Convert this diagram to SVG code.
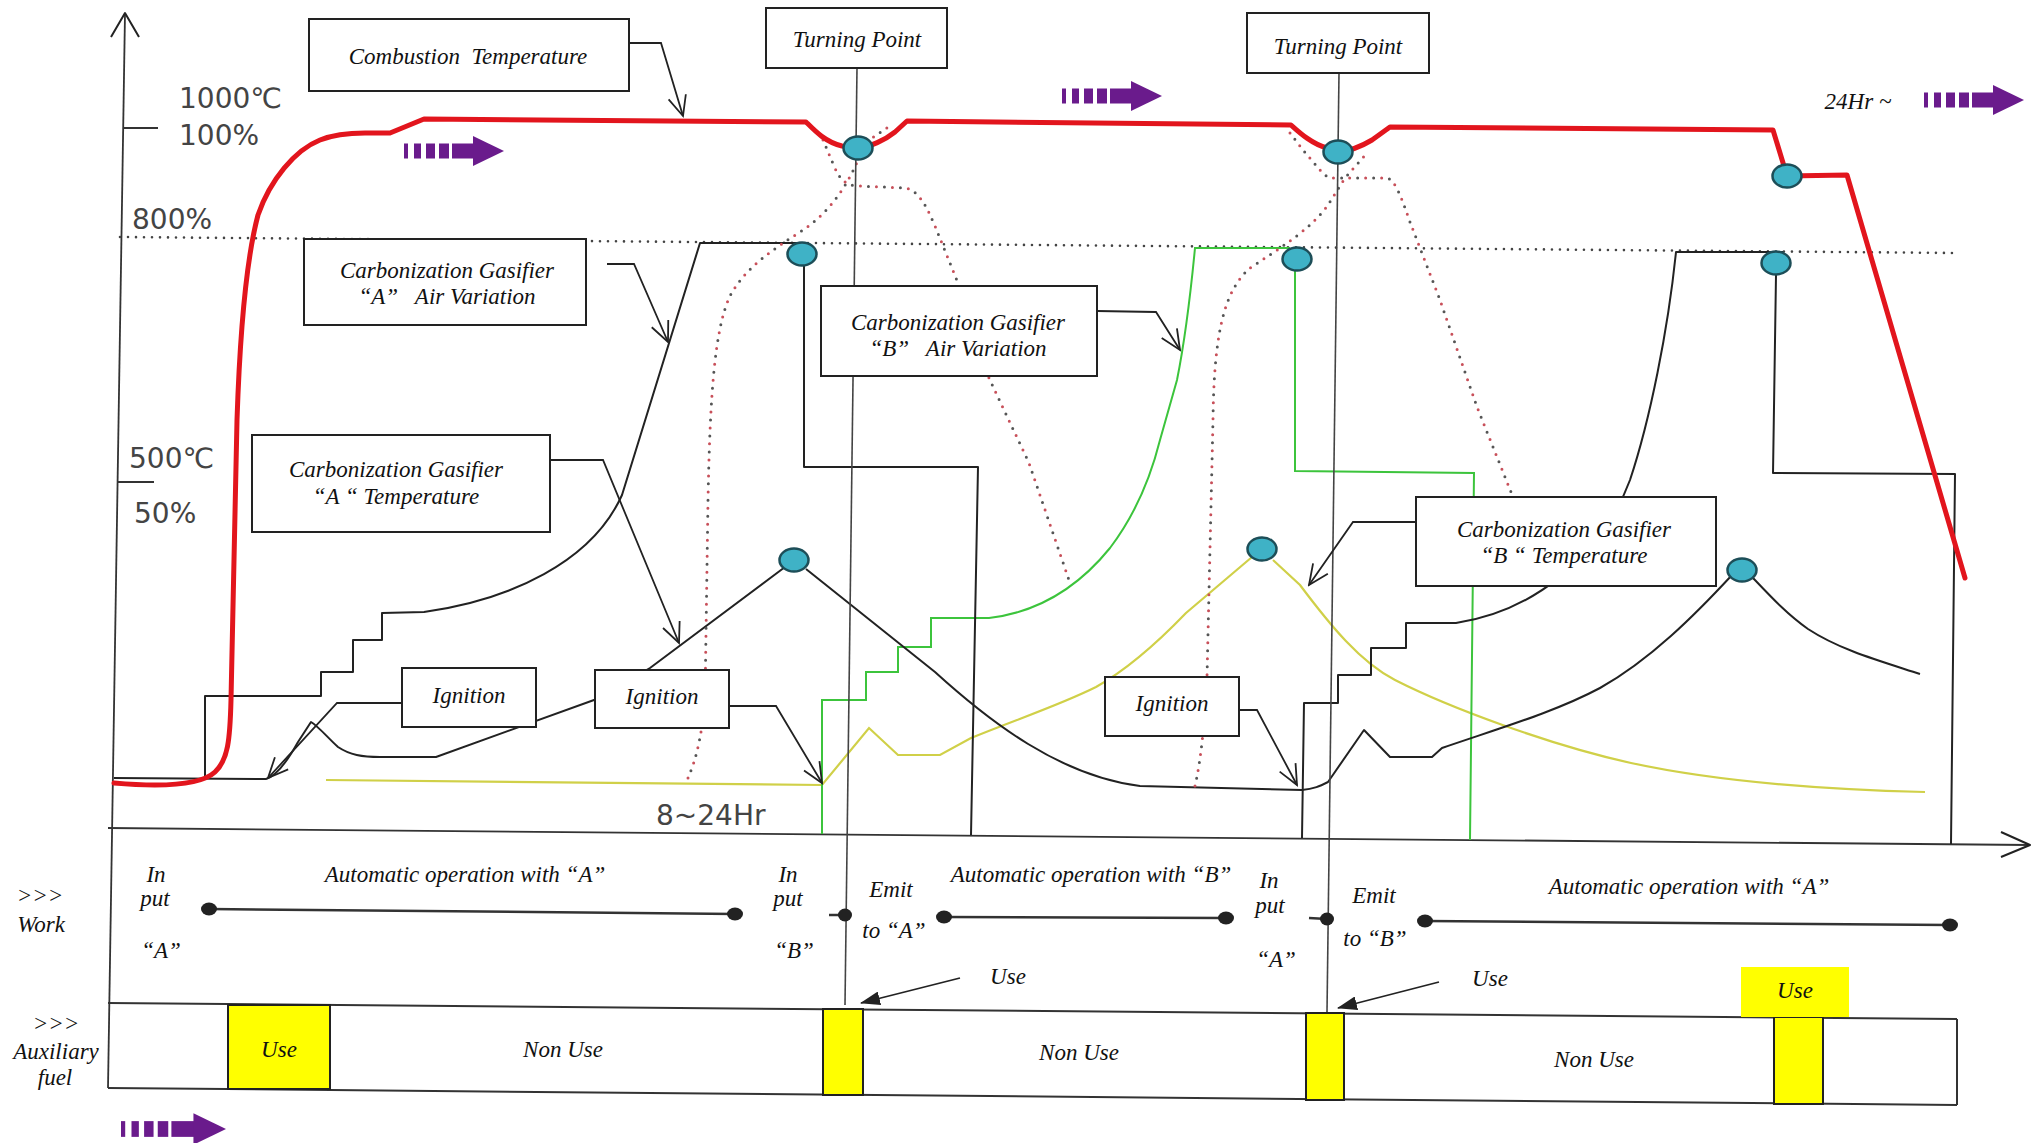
<svg xmlns="http://www.w3.org/2000/svg" width="2042" height="1143" viewBox="0 0 2042 1143">
<style>
.ln{fill:none;stroke:#222;stroke-width:2;stroke-linejoin:round}
.red{fill:none;stroke:#e2151d;stroke-width:5;stroke-linejoin:round;stroke-linecap:round}
.grn{fill:none;stroke:#3cc43c;stroke-width:2}
.yel{fill:none;stroke:#d0d048;stroke-width:2.2}
.dotr{fill:none;stroke:#c8505a;stroke-width:3;stroke-linecap:round;stroke-dasharray:0 16}
.dotg{fill:none;stroke:#555;stroke-width:3;stroke-linecap:round;stroke-dasharray:0 16;stroke-dashoffset:8}
.dotk{fill:none;stroke:#444;stroke-width:2.6;stroke-linecap:round;stroke-dasharray:0 8}
.pt{fill:#3fb2c6;stroke:#1d4e58;stroke-width:2.5}
.box{fill:#fff;stroke:#222;stroke-width:2}
.t{font-family:"Liberation Serif",serif;font-style:italic;fill:#111;text-anchor:middle;font-size:23px}
.ax{font-family:"DejaVu Sans","Noto Sans CJK JP",sans-serif;fill:#444;font-size:28px}
.yb{fill:#ffff00;stroke:#222;stroke-width:2}
.wl{stroke:#333;stroke-width:2.5}
.wd{fill:#222}
.ldr{fill:none;stroke:#222;stroke-width:1.8;marker-end:url(#av)}
.usr{fill:none;stroke:#222;stroke-width:1.8;marker-end:url(#ft)}
</style>
<defs>
<marker id="av" viewBox="0 0 24 24" refX="22" refY="12" markerWidth="24" markerHeight="24" markerUnits="userSpaceOnUse" orient="auto"><path d="M2,3 L22,12 L2,21" fill="none" stroke="#222" stroke-width="1.8"/></marker>
<marker id="ft" viewBox="0 0 20 14" refX="19" refY="7" markerWidth="20" markerHeight="14" markerUnits="userSpaceOnUse" orient="auto"><path d="M0,0 L20,7 L0,14 Z" fill="#222"/></marker>
<g id="parrow" fill="#6a1b8c"><rect x="0" y="-7.5" width="4" height="15"/><rect x="10" y="-7.5" width="7" height="15"/><rect x="22" y="-7.5" width="9" height="15"/><rect x="35" y="-7.5" width="10" height="15"/><rect x="48" y="-7.5" width="22" height="15"/><path d="M69,-15 L100,0 L69,15 Z"/></g>
</defs>
<rect width="2042" height="1143" fill="#fff"/>

<g id="axes">
<line x1="125" y1="13" x2="108" y2="1088" stroke="#333" stroke-width="1.8"/>
<path d="M111,37 L125,13 L139,37" class="ln" stroke-width="1.8"/>
<line x1="108" y1="828" x2="2030" y2="845" stroke="#333" stroke-width="1.8"/>
<path d="M2001,832 L2030,845 L2001,857" class="ln" stroke-width="1.8"/>
<line x1="123" y1="128" x2="158" y2="128" stroke="#333" stroke-width="2"/>
<line x1="117" y1="482" x2="154" y2="482" stroke="#333" stroke-width="2"/>
<path d="M120,237 L1955,253" class="dotk"/>
<text class="ax" x="179" y="108">1000℃</text>
<text class="ax" x="179" y="145">100%</text>
<text class="ax" x="132" y="229">800%</text>
<text class="ax" x="129" y="468">500℃</text>
<text class="ax" x="134" y="523">50%</text>
<text class="ax" x="656" y="825">8~24Hr</text>
</g>

<g id="curves">
<path class="yel" d="M326,780 L822,785 L869,728 L898,755 L940,755 L971,738 C1020,718 1060,705 1096,687 C1130,668 1160,640 1186,613 L1252,557 M1273,560 L1300,585 C1330,625 1360,662 1395,680 C1450,708 1550,745 1631,763 C1700,778 1800,789 1925,792"/>
<path class="grn" d="M822,834 L822,700 L866,700 L866,672 L898,672 L898,647 L931,647 L931,618 L989,618 C1040,612 1080,585 1110,548 C1135,515 1150,480 1160,440 L1177,380 C1183,350 1190,300 1195,248 L1290,248 M1295,271 L1295,471 L1474,473 L1470,840"/>
<path class="ln" d="M205,780 L205,696 L321,696 L321,672 L353,672 L353,640 L382,640 L382,613 L424,612 C510,600 592,562 622,495 L700,243 L808,243 M804,262 L804,467 L978,467 L971,835"/>
<path class="ln" d="M1302,838 L1304,703 L1338,703 L1338,675 L1371,675 L1371,648 L1406,648 L1406,623 L1456,623 C1530,612 1600,560 1630,480 C1650,420 1668,330 1676,252 L1783,252 M1776,275 L1773,473 L1955,474 L1951,844"/>
<path class="ln" d="M114,778 L266,779 C276,776 288,760 298,742 L311,722 C318,726 328,738 338,747 C350,755 362,757 380,757 L436,757 L594,700 L650,668 L785,567 M806,569 L935,672 C990,722 1060,776 1140,786 L1302,790 C1314,789 1320,786 1328,782 L1364,730 L1390,757 L1432,757 L1442,748 C1500,728 1555,712 1600,688 C1650,660 1695,615 1732,575 M1753,578 C1772,598 1788,615 1808,629 C1840,650 1880,661 1920,674"/>
<g id="dotted">
<path class="dotr" d="M688,778 C696,760 702,735 705,700 L708,500 C710,400 714,330 730,296 C745,268 772,250 800,232 C828,214 846,188 858,160 L872,138 L893,124"/>
<path class="dotg" d="M688,778 C696,760 702,735 705,700 L708,500 C710,400 714,330 730,296 C745,268 772,250 800,232 C828,214 846,188 858,160 L872,138 L893,124"/>
<path class="dotr" d="M823,140 L834,166 C840,180 846,186 860,186 L905,188 C918,190 926,205 935,226 L958,283 L989,378 L1029,463 L1070,583"/>
<path class="dotg" d="M823,140 L834,166 C840,180 846,186 860,186 L905,188 C918,190 926,205 935,226 L958,283 L989,378 L1029,463 L1070,583"/>
<path class="dotr" d="M1195,786 C1201,760 1205,720 1207,677 L1213,420 C1214,330 1225,290 1250,268 C1280,248 1310,230 1328,205 L1345,178 L1368,152"/>
<path class="dotg" d="M1195,786 C1201,760 1205,720 1207,677 L1213,420 C1214,330 1225,290 1250,268 C1280,248 1310,230 1328,205 L1345,178 L1368,152"/>
<path class="dotr" d="M1290,133 L1303,150 L1320,170 C1325,176 1328,178 1336,178 L1387,178 C1395,180 1401,196 1410,222 L1440,300 L1477,407 L1513,497"/>
<path class="dotg" d="M1290,133 L1303,150 L1320,170 C1325,176 1328,178 1336,178 L1387,178 C1395,180 1401,196 1410,222 L1440,300 L1477,407 L1513,497"/>
</g>
<line x1="857" y1="68" x2="845" y2="1005" stroke="#444" stroke-width="1.6"/>
<line x1="1339" y1="73" x2="1327" y2="1012" stroke="#444" stroke-width="1.6"/>
<path class="red" d="M114,783 C160,787 200,786 215,772 C228,760 230,740 231,700 L237,420 C240,330 246,260 258,215 C270,180 295,150 320,140 C335,134 350,133 365,133 L390,133 L424,119 L806,122 C814,130 825,142 842,146 L858,148 C870,147 885,140 895,132 L907,121 L1291,125 C1300,133 1312,144 1327,148 L1338,152 C1350,151 1362,146 1372,140 L1390,127 L1773,130 L1787,176 L1847,175 L1965,578"/>
<g id="points">
<ellipse class="pt" cx="858" cy="148" rx="14.5" ry="11.5"/>
<ellipse class="pt" cx="1338" cy="152" rx="14.5" ry="11.5"/>
<ellipse class="pt" cx="1787" cy="176" rx="14.5" ry="11.5"/>
<ellipse class="pt" cx="802" cy="254" rx="14.5" ry="11.5"/>
<ellipse class="pt" cx="1297" cy="259" rx="14.5" ry="11.5"/>
<ellipse class="pt" cx="1776" cy="263" rx="14.5" ry="11.5"/>
<ellipse class="pt" cx="794" cy="560" rx="14.5" ry="11.5"/>
<ellipse class="pt" cx="1262" cy="549" rx="14.5" ry="11.5"/>
<ellipse class="pt" cx="1742" cy="570" rx="14.5" ry="11.5"/>
</g>
</g>

<g id="connectors">
<path class="ldr" d="M629,43 L661,43 L683,116"/>
<path class="ldr" d="M607,264 L634,264 L668,342"/>
<path class="ldr" d="M550,460 L603,460 L679,643"/>
<path class="ldr" d="M1097,311 L1156,312 L1180,350"/>
<path class="ldr" d="M1416,522 L1353,522 L1309,585"/>
<path class="ldr" d="M402,703 L337,703 L268,778"/>
<path class="ldr" d="M729,706 L776,706 L822,783"/>
<path class="ldr" d="M1239,710 L1257,710 L1297,785"/>
<path class="usr" d="M960,978 L861,1003"/>
<path class="usr" d="M1439,982 L1338,1008"/>
</g>

<g id="n-combustion"><rect class="box" x="309" y="19" width="320" height="72"/><text class="t" x="468" y="64">Combustion&#160; Temperature</text></g>
<g id="n-tp1"><rect class="box" x="766" y="8" width="181" height="60"/><text class="t" x="857" y="47">Turning Point</text></g>
<g id="n-tp2"><rect class="box" x="1247" y="13" width="182" height="60"/><text class="t" x="1338" y="54">Turning Point</text></g>
<g id="n-aair"><rect class="box" x="304" y="239" width="282" height="86"/><text class="t" x="447" y="278">Carbonization Gasifier</text><text class="t" x="447" y="304">“A”&#160;&#160; Air Variation</text></g>
<g id="n-atemp"><rect class="box" x="252" y="435" width="298" height="97"/><text class="t" x="396" y="477">Carbonization Gasifier</text><text class="t" x="396" y="504">“A “ Temperature</text></g>
<g id="n-bair"><rect class="box" x="821" y="286" width="276" height="90"/><text class="t" x="958" y="330">Carbonization Gasifier</text><text class="t" x="958" y="356">“B”&#160;&#160; Air Variation</text></g>
<g id="n-btemp"><rect class="box" x="1416" y="497" width="300" height="89"/><text class="t" x="1564" y="537">Carbonization Gasifier</text><text class="t" x="1564" y="563">“B “ Temperature</text></g>
<g id="n-ign1"><rect class="box" x="402" y="668" width="134" height="59"/><text class="t" x="469" y="703" font-size="24">Ignition</text></g>
<g id="n-ign2"><rect class="box" x="595" y="670" width="134" height="58"/><text class="t" x="662" y="704" font-size="24">Ignition</text></g>
<g id="n-ign3"><rect class="box" x="1105" y="677" width="134" height="59"/><text class="t" x="1172" y="711" font-size="24">Ignition</text></g>

<g id="flow-arrows">
<use href="#parrow" transform="translate(404,151)"/>
<use href="#parrow" transform="translate(1062,96)"/>
<use href="#parrow" transform="translate(1924,100)"/>
<use href="#parrow" transform="translate(121,1129) scale(1.05)"/>
<text class="t" x="1858" y="109" font-size="30">24Hr ~</text>
</g>

<g id="work-row">
<text class="t" x="40" y="903" font-size="19">&gt;&gt;&gt;</text>
<text class="t" x="41" y="932" font-size="25">Work</text>
<text class="t" x="156" y="882">In</text><text class="t" x="155" y="906">put</text><text class="t" x="161" y="958">“A”</text>
<text class="t" x="465" y="882" font-size="24">Automatic operation with “A”</text>
<line class="wl" x1="209" y1="909" x2="735" y2="914"/>
<ellipse class="wd" cx="209" cy="909" rx="8" ry="6.5"/><ellipse class="wd" cx="735" cy="914" rx="8" ry="6.5"/>
<text class="t" x="788" y="882">In</text><text class="t" x="788" y="906">put</text><text class="t" x="794" y="958">“B”</text>
<line class="wl" x1="829" y1="915" x2="845" y2="915"/><ellipse class="wd" cx="845" cy="915" rx="7" ry="6.5"/>
<text class="t" x="891" y="897" font-size="17">Emit</text><text class="t" x="894" y="938" font-size="15">to “A”</text>
<line class="wl" x1="944" y1="917" x2="1226" y2="918"/>
<ellipse class="wd" cx="944" cy="917" rx="8" ry="6.5"/><ellipse class="wd" cx="1226" cy="918" rx="8" ry="6.5"/>
<text class="t" x="1091" y="882" font-size="24">Automatic operation with “B”</text>
<text class="t" x="1269" y="888">In</text><text class="t" x="1270" y="913">put</text><text class="t" x="1276" y="967">“A”</text>
<line class="wl" x1="1309" y1="918" x2="1327" y2="919"/><ellipse class="wd" cx="1327" cy="919" rx="7" ry="6.5"/>
<text class="t" x="1374" y="903" font-size="17">Emit</text><text class="t" x="1375" y="946" font-size="15">to “B”</text>
<line class="wl" x1="1425" y1="921" x2="1950" y2="925"/>
<ellipse class="wd" cx="1425" cy="921" rx="8" ry="6.5"/><ellipse class="wd" cx="1950" cy="925" rx="8" ry="6.5"/>
<text class="t" x="1689" y="894" font-size="24">Automatic operation with “A”</text>
<text class="t" x="1008" y="984" font-size="24">Use</text>
<text class="t" x="1490" y="986" font-size="24">Use</text>
</g>

<g id="aux-row">
<line x1="108" y1="1003" x2="1957" y2="1019" stroke="#333" stroke-width="2"/>
<line x1="108" y1="1088" x2="1957" y2="1105" stroke="#333" stroke-width="2"/>
<line x1="1957" y1="1019" x2="1957" y2="1105" stroke="#333" stroke-width="2"/>
<text class="t" x="56" y="1031" font-size="19">&gt;&gt;&gt;</text>
<text class="t" x="56" y="1059" font-size="25">Auxiliary</text>
<text class="t" x="55" y="1085" font-size="25">fuel</text>
<rect class="yb" x="228" y="1005" width="102" height="84"/>
<text class="t" x="279" y="1057" font-size="24">Use</text>
<text class="t" x="563" y="1057" font-size="25">Non Use</text>
<rect class="yb" x="823" y="1009" width="40" height="86"/>
<text class="t" x="1079" y="1060" font-size="25">Non Use</text>
<rect class="yb" x="1306" y="1013" width="38" height="87"/>
<text class="t" x="1594" y="1067" font-size="25">Non Use</text>
<rect class="yb" x="1774" y="1017" width="49" height="87"/>
<rect x="1741" y="967" width="108" height="50" fill="#ffff00"/>
<text class="t" x="1795" y="998" font-size="24">Use</text>
</g>
</svg>
